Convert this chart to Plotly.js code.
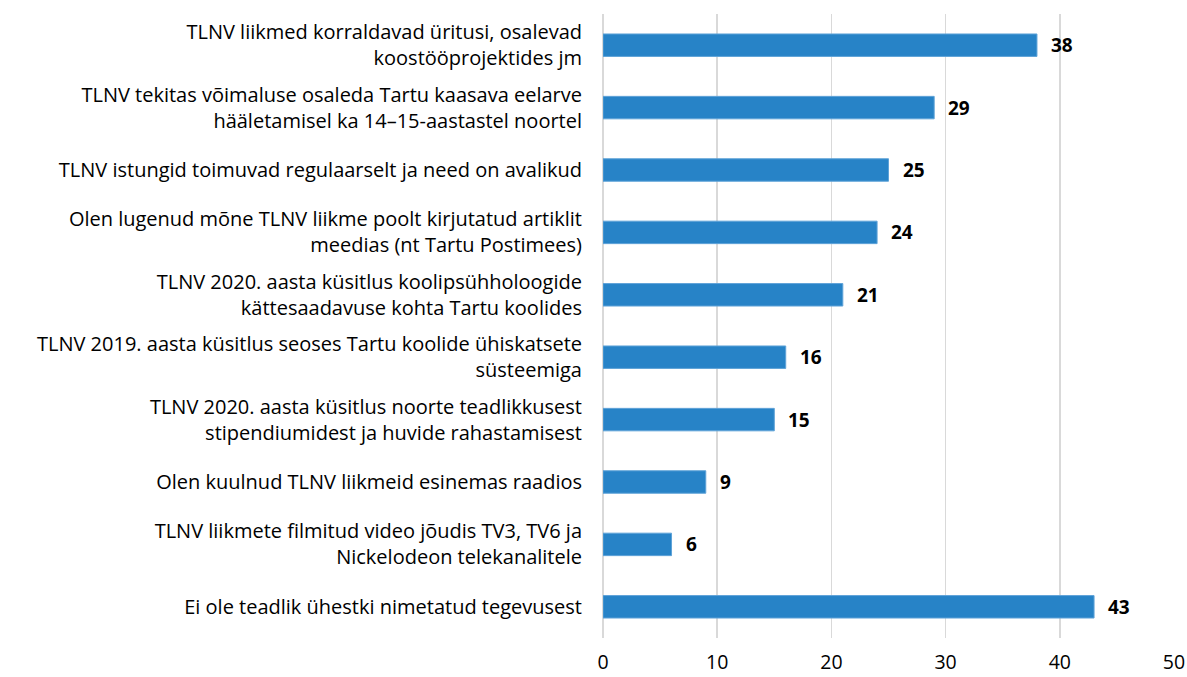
<!DOCTYPE html>
<html>
<head>
<meta charset="utf-8">
<script src="https://cdn.plot.ly/plotly-3.0.1.min.js"></script>
<style>html,body{margin:0;padding:0;background:#fff}#chart{width:1187px;height:677px}</style>
</head>
<body>
<div id="chart"></div>
<script>
const categories = [
  "TLNV liikmed korraldavad üritusi, osalevad<br>koostööprojektides jm",
  "TLNV tekitas võimaluse osaleda Tartu kaasava eelarve<br>hääletamisel ka 14–15-aastastel noortel",
  "TLNV istungid toimuvad regulaarselt ja need on avalikud",
  "Olen lugenud mõne TLNV liikme poolt kirjutatud artiklit<br>meedias (nt Tartu Postimees)",
  "TLNV 2020. aasta küsitlus koolipsühholoogide<br>kättesaadavuse kohta Tartu koolides",
  "TLNV 2019. aasta küsitlus seoses Tartu koolide ühiskatsete<br>süsteemiga",
  "TLNV 2020. aasta küsitlus noorte teadlikkusest<br>stipendiumidest ja huvide rahastamisest",
  "Olen kuulnud TLNV liikmeid esinemas raadios",
  "TLNV liikmete filmitud video jõudis TV3, TV6 ja<br>Nickelodeon telekanalitele",
  "Ei ole teadlik ühestki nimetatud tegevusest"
];
const values = [38, 29, 25, 24, 21, 16, 15, 9, 6, 43];
const tickValues = [0, 10, 20, 30, 40, 50];

const font = "'Open Sans', 'Noto Sans', sans-serif";

const trace = {
  type: 'bar',
  orientation: 'h',
  y: categories,
  x: values,
  width: 0.36,
  marker: {color: '#2783C7', line: {color: '#5fa3d8', width: 1}},
  hoverinfo: 'x+y'
};

const annotations = values.map((v, i) => ({
  x: v, y: categories[i], xref: 'x', yref: 'y',
  text: '<b>' + v + '</b>', showarrow: false,
  xanchor: 'left', yanchor: 'middle', xshift: 12,
  font: {family: font, size: 19, color: '#000'}
}));

const layout = {
  width: 1187, height: 677,
  margin: {l: 603, r: 13, t: 14, b: 39},
  paper_bgcolor: '#fff', plot_bgcolor: '#fff',
  showlegend: false,
  font: {family: font, size: 20, color: '#000'},
  xaxis: {
    range: [0, 50], tickvals: tickValues, ticktext: tickValues.map(String),
    showgrid: true, gridcolor: '#d9d9d9', gridwidth: 1.5,
    zeroline: true, zerolinecolor: '#d9d9d9', zerolinewidth: 1.5,
    showline: false, ticks: '', ticklabelstandoff: 10,
    tickfont: {family: font, size: 19.5, color: '#000'}
  },
  yaxis: {
    autorange: 'reversed', showgrid: false, zeroline: false, showline: false,
    ticks: '', ticklabelstandoff: 20,
    tickfont: {family: font, size: 20, color: '#000'}
  },
  annotations: annotations
};

Plotly.newPlot('chart', [trace], layout, {displayModeBar: false, staticPlot: true});
</script>
</body>
</html>
